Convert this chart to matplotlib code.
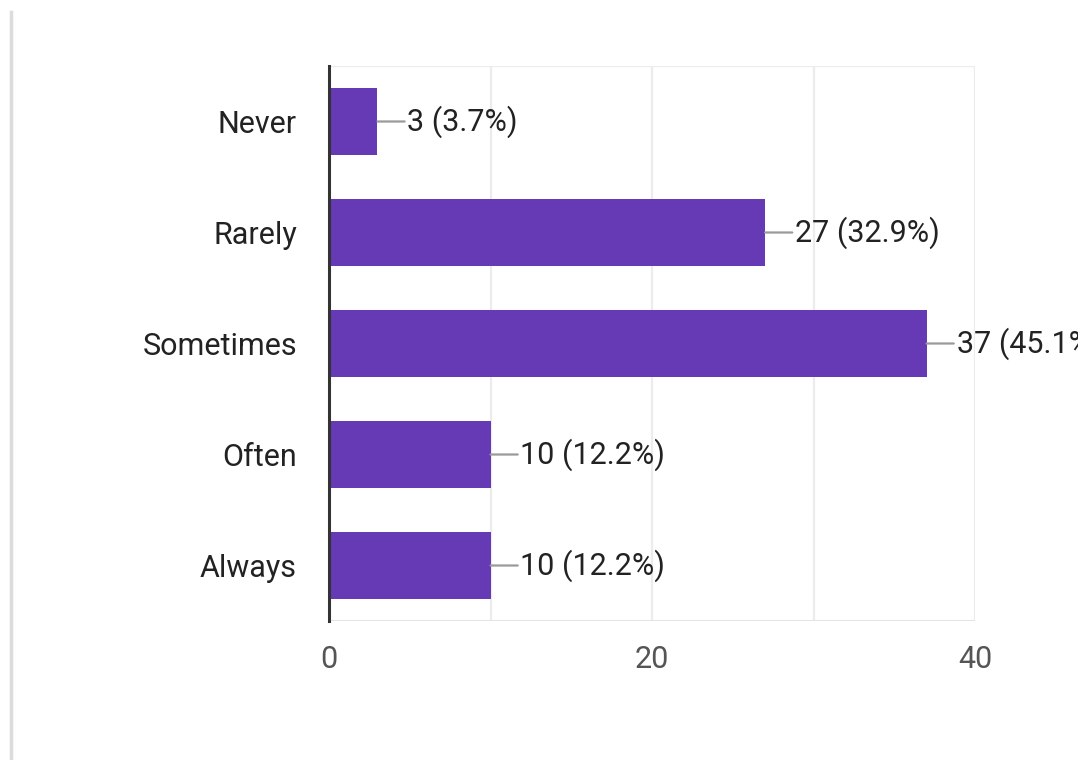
import matplotlib
matplotlib.use("Agg")
import matplotlib.pyplot as plt
from matplotlib.lines import Line2D

# Survey responses
categories = ["Never", "Rarely", "Sometimes", "Often", "Always"]
counts = [3, 27, 37, 10, 10]
percents = [3.7, 32.9, 45.1, 12.2, 12.2]
x_ticks = [0, 20, 40]

plt.rcParams["font.family"] = ["Roboto", "DejaVu Sans"]

fig = plt.figure(figsize=(10.78, 7.6), dpi=100)
fig.patch.set_facecolor("white")
ax = fig.add_axes([329 / 1078, 1 - 621 / 760, 646 / 1078, 555 / 760])

ypos = list(range(len(categories)))
ax.barh(ypos, counts, height=0.6, color="#6639b5", zorder=3)

ax.set_xlim(0, 40)
ax.set_ylim(len(categories) - 0.5, -0.5)

# light grid and frame
for xv in [10, 20, 30, 40]:
    ax.axvline(xv, color="#ececec", lw=1.6, zorder=1)
ax.axhline(-0.5, color="#ececec", lw=1.6, zorder=1)
ax.axhline(len(categories) - 0.5, color="#e4e4e4", lw=2.2, zorder=1)

for s in ["top", "right", "bottom"]:
    ax.spines[s].set_visible(False)
ax.spines["left"].set_color("#333333")
ax.spines["left"].set_linewidth(2.2)
ax.spines["left"].set_zorder(4)

ax.set_xticks(x_ticks)
ax.set_xticklabels([str(t) for t in x_ticks])
ax.set_yticks(ypos)
ax.set_yticklabels(categories)
ax.tick_params(axis="x", length=0, pad=17, labelsize=22, labelcolor="#555555")
ax.tick_params(axis="y", length=0, pad=23, labelsize=22, labelcolor="#222222")

for i, (c, p) in enumerate(zip(counts, percents)):
    ax.annotate(f"{c} ({p}%)", xy=(c, i), xytext=(30, 0),
                textcoords="offset pixels", ha="left", va="center",
                fontsize=22, color="#222222", annotation_clip=False,
                arrowprops=dict(arrowstyle="-", color="#9a9a9a", lw=1.6,
                                shrinkA=0, shrinkB=0, relpos=(0, 0.5)),
                zorder=5)

# left frame line of the page
fig.add_artist(Line2D([11 / 1078, 11 / 1078], [0, 1 - 12 / 760],
                      transform=fig.transFigure, color="#dcdcdc", lw=2.5))

fig.savefig("out.png", dpi=100, facecolor="white")
